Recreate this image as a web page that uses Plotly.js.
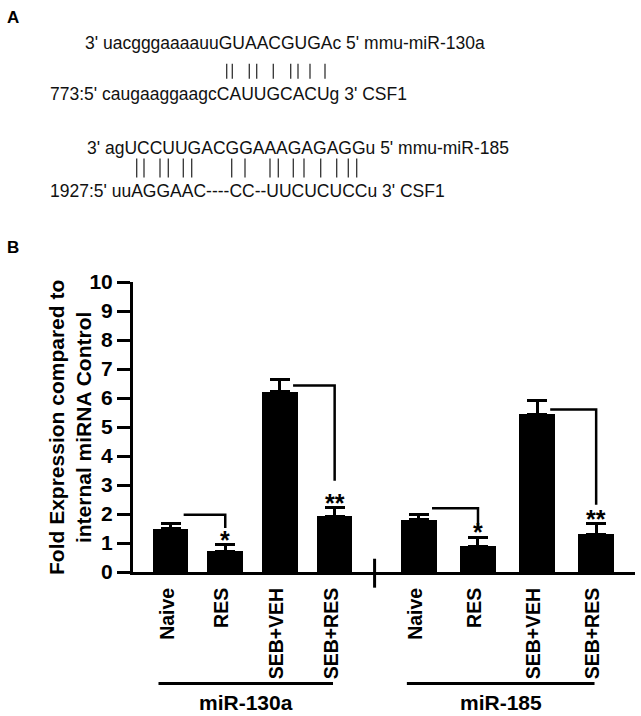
<!DOCTYPE html>
<html>
<head>
<meta charset="utf-8">
<script src="https://cdn.plot.ly/plotly-3.0.1.min.js"></script>
<style>html,body{margin:0;padding:0;background:#fff;}#chart{width:641px;height:716px;}</style>
</head>
<body>
<div id="chart"></div>
<script>
// ---------- data ----------
const categories = ['Naive', 'RES', 'SEB+VEH', 'SEB+RES'];
const groupNames = ['miR-130a', 'miR-185'];
const mir130a = [1.5, 0.72, 6.22, 1.92];
const mir130aErr = [0.18, 0.22, 0.42, 0.29];
const mir185 = [1.8, 0.88, 5.44, 1.31];
const mir185Err = [0.2, 0.32, 0.46, 0.35];
const signif130a = ['', '*', '', '**'];
const signif185 = ['', '*', '', '**'];
// comparison brackets: [from index, to index]
const comparisons = [[0, 1], [2, 3]];
const bracketTop130a = [1.97, 6.43];
const bracketDrop130a = [1.52, 3.15];
const bracketTop185 = [2.2, 5.6];
const bracketDrop185 = [1.57, 2.32];
const yTicks = [0, 1, 2, 3, 4, 5, 6, 7, 8, 9, 10];
// panel A sequence text
const seqLines = [
  "3' uacgggaaaauuGUAACGUGAc 5' mmu-miR-130a",
  "773:5' caugaaggaagcCAUUGCACUg 3' CSF1",
  "3' agUCCUUGACGGAAAGAGAGGu 5' mmu-miR-185",
  "1927:5' uuAGGAAC----CC--UUCUCUCCu 3' CSF1"
];

// ---------- layout helpers ----------
const FONT = '"Liberation Sans", Arial, sans-serif';
const L = 133, R = 635, T = 281.7, B = 572.3;
const px = x => (x - L) / (R - L);
const py = y => (B - y) / (B - T);
const groupOffset = [0, 4.54];
const groupStep = [1, 1.08];
const pos = (g, i) => groupOffset[g] + groupStep[g] * i;

const groups = [
  {vals: mir130a, err: mir130aErr, sig: signif130a, top: bracketTop130a, drop: bracketDrop130a},
  {vals: mir185, err: mir185Err, sig: signif185, top: bracketTop185, drop: bracketDrop185}
];

const traces = groups.map((g, gi) => ({
  type: 'bar',
  x: categories.map((c, i) => pos(gi, i)),
  y: g.vals,
  width: 0.65,
  marker: {color: '#000', line: {width: 0}},
  error_y: {type: 'data', array: g.err, symmetric: false, arrayminus: g.err.map(() => 0),
            color: '#000', thickness: 3, width: 10},
  hoverinfo: 'skip',
  showlegend: false
}));

const annotations = [];
const shapes = [];

// significance stars + brackets
groups.forEach((g, gi) => {
  g.sig.forEach((s, i) => {
    if (!s) return;
    annotations.push({x: pos(gi, i), y: g.vals[i] + g.err[i], xref: 'x', yref: 'y',
      text: '<b>' + s + '</b>', showarrow: false, yanchor: 'bottom', yshift: -11,
      font: {family: FONT, size: 25, color: '#000'}});
  });
  comparisons.forEach((c, k) => {
    const x0 = pos(gi, c[0]) + 0.24, x1 = pos(gi, c[1]);
    shapes.push({type: 'path', xref: 'x', yref: 'y',
      path: `M${x0},${g.top[k]} L${x1},${g.top[k]} L${x1},${g.drop[k]}`,
      line: {color: '#000', width: 2.5}});
  });
});

// separator tick between groups
const sepX = (pos(0, 3) + pos(1, 0)) / 2 - 0.04;
shapes.push({type: 'line', xref: 'x', yref: 'paper', x0: sepX, x1: sepX,
  y0: py(559), y1: py(588), line: {color: '#000', width: 3}});

// group underlines and labels
groupNames.forEach((name, gi) => {
  const x0 = pos(gi, 0) - 0.22, x1 = pos(gi, 3) - 0.03;
  shapes.push({type: 'line', xref: 'x', yref: 'paper', x0: x0, x1: x1,
    y0: py(684), y1: py(684), line: {color: '#000', width: 3}});
  annotations.push({x: (x0 + x1) / 2, y: py(703), xref: 'x', yref: 'paper',
    text: '<b>' + name + '</b>', showarrow: false, xanchor: 'center', yanchor: 'middle',
    font: {family: FONT, size: 21, color: '#000'}});
});

// y-axis title
annotations.push({x: px(70), y: py(428), xref: 'paper', yref: 'paper', textangle: -90,
  text: '<b>Fold Expression compared to<br>internal miRNA Control</b>', showarrow: false,
  xanchor: 'center', yanchor: 'middle', font: {family: FONT, size: 21, color: '#000'}});

// panel letters
annotations.push({x: px(5), y: py(17), xref: 'paper', yref: 'paper', text: '<b>A</b>',
  showarrow: false, xanchor: 'left', yanchor: 'middle', font: {family: FONT, size: 17, color: '#000'}});
annotations.push({x: px(5), y: py(247), xref: 'paper', yref: 'paper', text: '<b>B</b>',
  showarrow: false, xanchor: 'left', yanchor: 'middle', font: {family: FONT, size: 17, color: '#000'}});

// panel A sequence lines
const seqPos = [[83, 42], [48, 93], [85, 147], [48, 191]];
seqLines.forEach((t, i) => {
  annotations.push({x: px(seqPos[i][0]), y: py(seqPos[i][1]), xref: 'paper', yref: 'paper',
    text: t, showarrow: false, xanchor: 'left', yanchor: 'middle',
    font: {family: FONT, size: 17.5, color: '#111'}});
});
// base-pairing bars
const pairBars = [
  {y0: 63, y1: 78, xs: [226.7, 232.3, 249.3, 256.7, 273.3, 290.7, 298, 310, 325]},
  {y0: 158, y1: 177, xs: [136.7, 144, 160, 168.3, 183.3, 191.7, 231.7, 245, 270, 278.3, 293.3, 304, 320.7, 336.7, 348.3, 356.7]}
];
pairBars.forEach(r => r.xs.forEach(x => {
  shapes.push({type: 'line', xref: 'paper', yref: 'paper', x0: px(x), x1: px(x),
    y0: py(r.y0), y1: py(r.y1), line: {color: '#333', width: 1.3}});
}));

const tickvals = [], ticktext = [];
groups.forEach((g, gi) => categories.forEach((c, i) => { tickvals.push(pos(gi, i) - 0.06); ticktext.push('<b>' + c + '</b>'); }));

const layout = {
  width: 641, height: 716,
  margin: {l: L, r: 641 - R, t: T, b: 716 - B, pad: 0},
  paper_bgcolor: '#fff', plot_bgcolor: '#fff',
  font: {family: FONT, color: '#000'},
  bargap: 0,
  xaxis: {
    range: [-0.686, 8.49], showgrid: false, zeroline: false,
    showline: true, linewidth: 3, linecolor: '#000',
    tickmode: 'array', tickvals: tickvals, ticktext: ticktext, tickangle: -90, ticks: '',
    ticklabelstandoff: 5,
    tickfont: {family: FONT, size: 19.5, color: '#000'}
  },
  yaxis: {
    range: [0, 10], showgrid: false, zeroline: false,
    showline: true, linewidth: 3, linecolor: '#000',
    ticks: 'outside', ticklen: 13, tickwidth: 3, tickcolor: '#000',
    tickmode: 'array', tickvals: yTicks, ticktext: yTicks.map(v => '<b>' + v + '</b>'),
    tickfont: {family: FONT, size: 21, color: '#000'}
  },
  shapes: shapes,
  annotations: annotations
};

Plotly.newPlot('chart', traces, layout, {staticPlot: true, displayModeBar: false});
</script>
</body>
</html>
